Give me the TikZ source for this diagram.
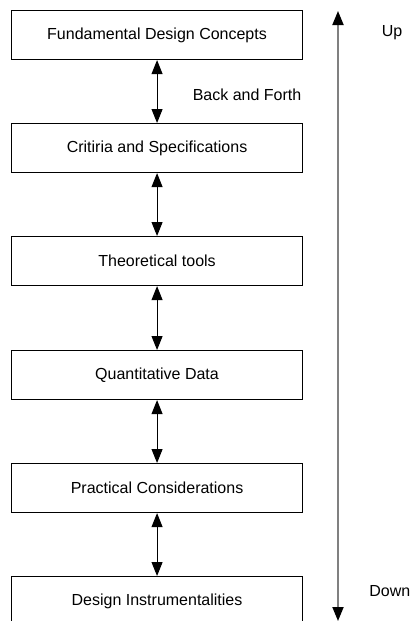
\documentclass[tikz,border=0pt]{standalone}
\usepackage{fontspec}
\setmainfont{Liberation Sans}
\usetikzlibrary{arrows.meta}
\begin{document}
\begin{tikzpicture}[x=1pt,y=-1pt,
  stagebox/.style={draw=black,line width=1.1pt,minimum width=291pt,minimum height=49pt,inner sep=0pt,anchor=north west,font=\fontsize{16}{19}\selectfont},
  lbl/.style={font=\fontsize{16}{19}\selectfont,inner sep=0pt},
  link/.style={draw=black,line width=1pt,{Triangle[width=11pt,length=14pt]}-{Triangle[width=11pt,length=14pt]}},
  axis/.style={draw=black!50,line width=1.8pt,{Triangle[width=11pt,length=14pt,color=black]}-{Triangle[width=11pt,length=14pt,color=black]}}
]
\useasboundingbox[fill=white] (0,0) rectangle (412,621);
\node[stagebox] (b1) at (11,10) {Fundamental Design Concepts};
\node[stagebox] (b2) at (11,123) {Critiria and Specifications};
\node[stagebox] (b3) at (11,236) {Theoretical tools};
\node[stagebox] (b4) at (11,350) {Quantitative Data};
\node[stagebox] (b5) at (11,463) {Practical Considerations};
\node[stagebox] (b6) at (11,576) {Design Instrumentalities};
\draw[link] (b1.south) -- (b2.north);
\draw[link] (b2.south) -- (b3.north);
\draw[link] (b3.south) -- (b4.north);
\draw[link] (b4.south) -- (b5.north);
\draw[link] (b5.south) -- (b6.north);
\node[lbl] (bf) at (247,95) {Back and Forth};
\coordinate (atop) at (338,11);
\coordinate (abot) at (338,621);
\draw[axis] (atop) -- (abot);
\node[lbl] (up) at (392,33) {Up};
\node[lbl,anchor=east] (down) at (410.5,591) {Down};
\end{tikzpicture}
\end{document}
